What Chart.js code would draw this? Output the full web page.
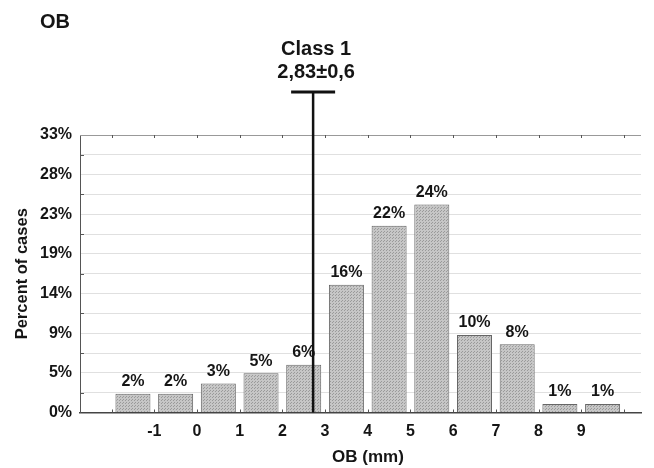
<!DOCTYPE html>
<html>
<head>
<meta charset="utf-8">
<script src="https://cdn.jsdelivr.net/npm/chart.js@4.4.1/dist/chart.umd.min.js"></script>
<style>
  html, body { margin: 0; padding: 0; background: #fff; }
  #wrap { width: 654px; height: 468px; }
</style>
</head>
<body>
<div id="wrap"><canvas id="obChart"></canvas></div>
<script>
// Histogram bins (1 mm wide, starting at binStarts) and their heights in %
const binStarts = [-2, -1, 0, 1, 2, 3, 4, 5, 6, 7, 8, 9];
const percents = [2.2, 2.2, 3.4, 4.6, 5.6, 15.0, 21.9, 24.4, 9.1, 8.0, 1.0, 1.0];
const percentLabels = ['2%', '2%', '3%', '5%', '6%', '16%', '22%', '24%', '10%', '8%', '1%', '1%'];

// Axis ticks
const xTickValues = [-1, 0, 1, 2, 3, 4, 5, 6, 7, 8, 9];
const yTickLabels = ['0%', '5%', '9%', '14%', '19%', '23%', '28%', '33%'];
const yMax = 32.56;

// Class marker
const classLineAt = 2.72;
const classTitle = 'Class 1';
const classText = '2,83\u00b10,6';

const FONT = "'Liberation Sans', Arial, sans-serif";
const INK = '#151515';

// bin edges -2 .. 10 for the little tick marks
const binEdges = binStarts.concat([binStarts[binStarts.length - 1] + 1]);

function makeHalftone() {
  const c = document.createElement('canvas');
  c.width = 3; c.height = 3;
  const g = c.getContext('2d');
  g.fillStyle = '#c6c6c6';
  g.fillRect(0, 0, 3, 3);
  g.fillStyle = '#9a9a9a';
  g.fillRect(0, 0, 1, 1);
  g.fillRect(2, 1, 1, 1);
  return g.createPattern(c, 'repeat');
}

const decorPlugin = {
  id: 'decor',
  afterDatasetsDraw(chart) {
    const { ctx, chartArea: a, scales: { x, y } } = chart;
    ctx.save();

    // top frame line with tick marks
    ctx.strokeStyle = '#999';
    ctx.lineWidth = 1;
    ctx.beginPath();
    ctx.moveTo(a.left, a.top + 0.5);
    ctx.lineTo(a.right, a.top + 0.5);
    ctx.stroke();

    ctx.strokeStyle = '#555';
    binEdges.forEach(e => {
      const px = Math.round(x.getPixelForValue(e)) + 0.5;
      ctx.beginPath();
      ctx.moveTo(px, a.bottom);
      ctx.lineTo(px, a.bottom - 3);
      ctx.moveTo(px, a.top);
      ctx.lineTo(px, a.top + 3);
      ctx.stroke();
    });

    // minor marks on the y axis
    for (let i = 1; i < 14; i += 2) {
      const py = Math.round(y.getPixelForValue(i * yMax / 14)) + 0.5;
      ctx.beginPath();
      ctx.moveTo(a.left, py);
      ctx.lineTo(a.left + 4, py);
      ctx.stroke();
    }

    // percent labels above bars
    const meta = chart.getDatasetMeta(0);
    ctx.fillStyle = INK;
    ctx.font = 'bold 16px ' + FONT;
    ctx.textAlign = 'center';
    ctx.textBaseline = 'bottom';
    meta.data.forEach((bar, i) => {
      ctx.fillText(percentLabels[i], bar.x, bar.y - 4);
    });

    // class marker line with cap
    const lx = x.getPixelForValue(classLineAt);
    const capY = a.top - 43;
    ctx.strokeStyle = '#111';
    ctx.lineWidth = 2.5;
    ctx.beginPath();
    ctx.moveTo(lx, y.getPixelForValue(0));
    ctx.lineTo(lx, capY);
    ctx.stroke();
    ctx.lineWidth = 3;
    ctx.beginPath();
    ctx.moveTo(lx - 22, capY);
    ctx.lineTo(lx + 22, capY);
    ctx.stroke();

    ctx.fillStyle = INK;
    ctx.font = 'bold 20px ' + FONT;
    ctx.textBaseline = 'middle';
    ctx.fillText(classTitle, lx + 3, 49);
    ctx.fillText(classText, lx + 3, 72);

    // chart title and axis titles
    ctx.font = 'bold 20px ' + FONT;
    ctx.textAlign = 'left';
    ctx.textBaseline = 'alphabetic';
    ctx.fillText('OB', 40, 28);

    ctx.font = 'bold 17px ' + FONT;
    ctx.textAlign = 'center';
    ctx.textBaseline = 'middle';
    ctx.fillText('OB (mm)', 368, 457);

    ctx.font = 'bold 16.5px ' + FONT;
    ctx.translate(22, (a.top + a.bottom) / 2);
    ctx.rotate(-Math.PI / 2);
    ctx.fillText('Percent of cases', 0, 0);

    ctx.restore();
  }
};

const ctx = document.getElementById('obChart').getContext('2d');

const obChart = new Chart(ctx, {
  type: 'bar',
  data: {
    datasets: [{
      data: binStarts.map((b, i) => ({ x: b + 0.5, y: percents[i] })),
      backgroundColor: makeHalftone(),
      borderColor: '#666',
      borderWidth: 1,
      categoryPercentage: 1,
      barPercentage: 0.82
    }]
  },
  options: {
    responsive: true,
    maintainAspectRatio: false,
    animation: false,
    layout: { padding: { top: 135, right: 13, bottom: 0, left: 0 } },
    plugins: {
      legend: { display: false },
      tooltip: { enabled: false }
    },
    scales: {
      x: {
        type: 'linear',
        min: -2.74,
        max: 10.4,
        offset: false,
        afterBuildTicks: scale => {
          scale.ticks = binEdges.map(v => ({ value: v }));
        },
        afterFit: scale => { scale.height = 55.5; },
        ticks: {
          autoSkip: false,
          maxRotation: 0,
          padding: 9,
          color: INK,
          font: { family: FONT, size: 16, weight: 'bold' },
          callback: value => xTickValues.includes(value) ? String(value) : ''
        },
        grid: { display: false, drawTicks: false },
        border: { color: '#444', width: 1.5 }
      },
      y: {
        min: 0,
        max: yMax,
        afterBuildTicks: scale => {
          const t = [];
          for (let i = 0; i <= 14; i++) t.push({ value: i * yMax / 14 });
          scale.ticks = t;
        },
        afterFit: scale => { scale.width = 80; },
        ticks: {
          autoSkip: false,
          padding: 8,
          color: INK,
          font: { family: FONT, size: 16, weight: 'bold' },
          callback: (value, index) => index % 2 === 0 ? yTickLabels[index / 2] : ''
        },
        grid: { color: '#e0e0e0', drawTicks: false },
        border: { color: '#555', width: 1 }
      }
    }
  },
  plugins: [decorPlugin]
});
</script>
</body>
</html>
